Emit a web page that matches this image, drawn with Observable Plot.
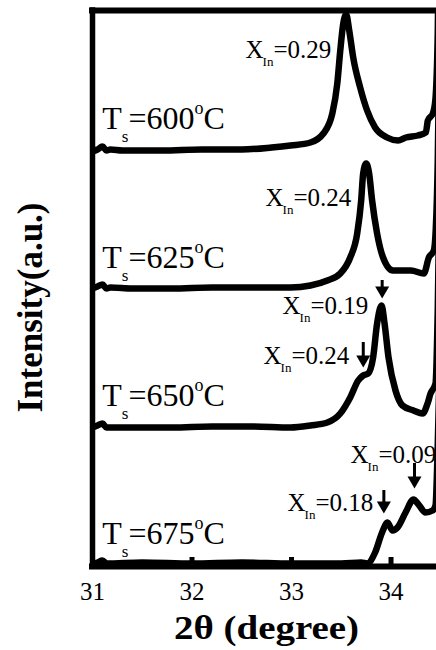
<!DOCTYPE html>
<html><head><meta charset="utf-8">
<script src="https://cdn.jsdelivr.net/npm/d3@7"></script>
<script src="https://cdn.jsdelivr.net/npm/@observablehq/plot@0.6"></script>
<style>html,body{margin:0;padding:0;background:#fff} #chart svg{display:block}</style>
</head><body><div id="chart"></div>
<script>
// ---- data (2θ in degrees, intensity in a.u. above each pattern's baseline) ----
const temps = ["600", "625", "650", "675"];
const offsets = [416, 278, 139, 3];

const theta600 = [31.00, 31.05, 31.10, 31.14, 31.18, 31.30, 31.70, 32.10, 32.50, 32.80, 32.99, 33.19, 33.32, 33.41, 33.46, 33.49, 33.52, 33.55, 33.58, 33.62, 33.69, 33.76, 33.84, 33.96, 34.07, 34.15, 34.27, 34.35, 34.37, 34.42, 34.445, 34.47, 34.48];
const int600   = [-1, 1, 4, 0, 1, 0, 0, 1, 1, 3, 5, 8, 17, 37, 67, 100, 127, 136, 120, 93, 63, 40, 23, 13, 10, 13, 15, 18, 30, 37, 50, 120, 200];

const theta625 = [31.00, 31.05, 31.10, 31.14, 31.18, 31.40, 31.80, 32.20, 32.60, 32.99, 33.19, 33.36, 33.49, 33.59, 33.66, 33.70, 33.72, 33.75, 33.78, 33.81, 33.86, 33.92, 34.02, 34.13, 34.20, 34.33, 34.38, 34.43, 34.45, 34.47, 34.48];
const int625   = [0, 2, 4, 0, 1, 0, 0, 1, 1, 1, 3, 8, 15, 31, 55, 88, 115, 125, 115, 88, 55, 31, 18, 18, 18, 15, 31, 38, 60, 130, 200];

const theta650 = [31.00, 31.05, 31.10, 31.14, 31.40, 31.80, 32.20, 32.60, 32.99, 33.19, 33.36, 33.49, 33.59, 33.67, 33.72, 33.77, 33.82, 33.86, 33.905, 33.935, 33.975, 34.045, 34.115, 34.226, 34.317, 34.367, 34.397, 34.447, 34.47, 34.49];
const int650   = [0, 2, 4, 0, 0, 0, 1, 1, 0, 2, 5, 14, 30, 47, 52, 54, 70, 104, 122, 104, 70, 37, 22, 17, 14, 24, 34, 44, 120, 250];

const theta675 = [31.00, 31.05, 31.10, 31.14, 31.50, 32.00, 32.50, 33.00, 33.50, 33.70, 33.76, 33.84, 33.91, 33.965, 34.015, 34.065, 34.146, 34.226, 34.276, 34.347, 34.417, 34.447, 34.47, 34.49];
const int675   = [0, 1, 3, 0, 1, 0, 1, 0, 0, 1, 0, 11, 31, 41, 33, 36, 51, 64, 59, 51, 53, 58, 120, 200];

const tickValues = [31, 32, 33, 34];

const tempText = ["T_{s}=600^{o}C", "T_{s}=625^{o}C", "T_{s}=650^{o}C", "T_{s}=675^{o}C"];
const tempLabelX = [31.098, 31.098, 31.098, 31.098];
const tempLabelY = [438, 299, 161, 23];

const compText = ["X_{In}=0.29", "X_{In}=0.24", "X_{In}=0.19", "X_{In}=0.24", "X_{In}=0.18", "X_{In}=0.09"];
const compX = [32.538, 32.739, 32.910, 32.719, 32.960, 33.593];
const compY = [509, 361, 253, 203, 56, 104];

const arrowX   = [33.911, 33.721, 33.928, 34.236];
const arrowTop = [286, 224, 76, 103];
const arrowTip = [268, 199, 53, 78];

const xTitle = "2θ (degree)";
const yTitle = "Intensity(a.u.)";

// ---- build tables ----
const thetas = [theta600, theta625, theta650, theta675];
const ints = [int600, int625, int650, int675];
const rows = [];
temps.forEach((t, k) => thetas[k].forEach((x, i) => rows.push({temp: t, x, y: ints[k][i] + offsets[k]})));
const tempLabels = tempText.map((label, i) => ({label, x: tempLabelX[i], y: tempLabelY[i]}));
const compLabels = compText.map((label, i) => ({label, x: compX[i], y: compY[i]}));
const arrows = arrowX.map((x, i) => ({x, top: arrowTop[i], tip: arrowTip[i]}));

const xMin = 31, xMax = 34.457, yMin = 0, yMax = 556;

const chart = Plot.plot({
  width: 436, height: 650,
  marginLeft: 92, marginRight: 0, marginTop: 10, marginBottom: 84,
  style: {fontFamily: "'Liberation Serif', 'Times New Roman', serif", background: "white", color: "black"},
  x: {domain: [xMin, xMax]},
  y: {domain: [yMin, yMax], axis: null},
  marks: [
    Plot.line(rows, {x: "x", y: "y", z: "temp", stroke: "black", strokeWidth: 6.5, curve: "monotone-x", clip: true, strokeLinejoin: "round", strokeLinecap: "round"}),
    Plot.ruleX([xMin], {x: d => d, strokeWidth: 5.5, strokeLinecap: "square"}),
    Plot.ruleY([yMin, yMax], {y: d => d, strokeWidth: 6, strokeLinecap: "square"}),
    Plot.tickX(tickValues, {x: d => d, strokeWidth: 5, insetTop: (yMax - yMin) - 9}),
    Plot.axisX({ticks: tickValues, tickSize: 0, tickPadding: 16, fontSize: 25, tickFormat: d => String(d), label: null}),
    Plot.ruleX(arrows, {x: "x", y1: "top", y2: d => d.tip + 8, strokeWidth: 3}),
    Plot.dot(arrows, {x: "x", y: d => d.tip + 8, symbol: "triangle", rotate: 180, r: 5.2, fill: "black", stroke: "none"}),
    Plot.text(tempLabels, {x: "x", y: "y", text: "label", textAnchor: "start", lineAnchor: "bottom", fontSize: 32}),
    Plot.text(compLabels, {x: "x", y: "y", text: "label", textAnchor: "start", lineAnchor: "bottom", fontSize: 25}),
    Plot.text([yTitle], {text: d => d, frameAnchor: "left", textAnchor: "middle", rotate: -90, dx: -62, dy: 19, fontSize: 35, fontWeight: "bold", lineAnchor: "middle"}),
    Plot.text([xTitle], {text: d => d, frameAnchor: "bottom", textAnchor: "middle", dx: 2, dy: 62, fontSize: 33, fontWeight: "bold", lineAnchor: "middle"})
  ]
});

function richify(el, main, sub, subDy, sup, supDy, subDx) {
  const s = el.textContent;
  const parts = [...s.matchAll(/([_^])\{([^}]*)\}|([^_^]+)/g)];
  el.textContent = "";
  let shift = 0;
  for (const m of parts) {
    const t = d3.select(el).append("tspan");
    let target, size, dx = 0;
    if (m[1] === "_") { target = subDy; size = sub; dx = subDx; }
    else if (m[1] === "^") { target = -supDy; size = sup; }
    else { target = 0; size = main; }
    t.attr("dy", target - shift).attr("font-size", size).text(m[2] !== undefined ? m[2] : m[3]);
    if (dx) t.attr("dx", dx);
    shift = target;
  }
}
const tickStrings = tickValues.map(String);
d3.select(chart).selectAll("text").each(function() {
  const s = this.textContent;
  if (s.startsWith("T_{")) richify(this, 32, 17, 13, 18, 15, 0);
  else if (s.startsWith("X_{")) richify(this, 25, 13, 8, 13, 6, -1);
  else if (s === xTitle) d3.select(this).attr("textLength", 185).attr("lengthAdjust", "spacingAndGlyphs");
  else if (tickStrings.includes(s)) d3.select(this).attr("font-size", 25);
});

document.getElementById("chart").appendChild(chart);
</script>
</body></html>
